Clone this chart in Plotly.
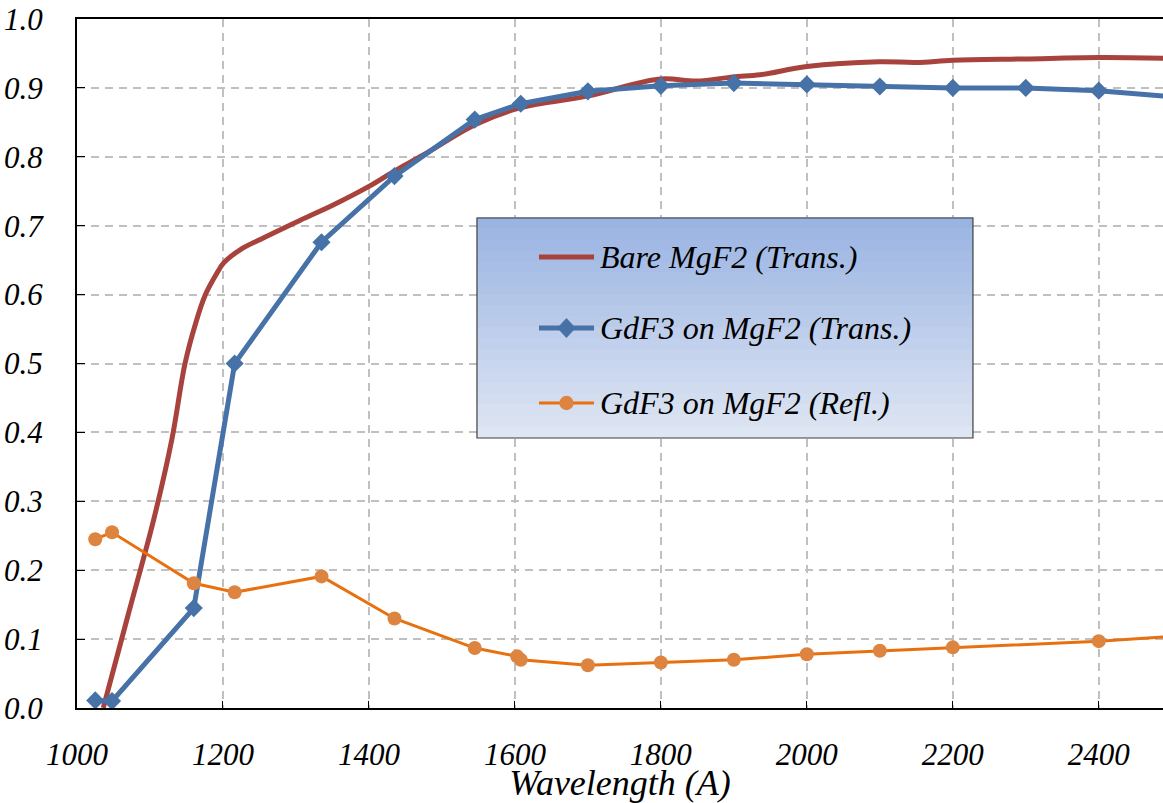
import plotly.graph_objects as go

# ---------------- data ----------------
bare_x = [1036, 1070, 1105, 1130, 1148, 1163, 1176, 1190, 1201, 1225, 1251, 1306,
          1351, 1400, 1436, 1475, 1546, 1607, 1699, 1799, 1849, 1899, 1936, 2000,
          2099, 2150, 2200, 2299, 2399, 2500]
bare_y = [0.000, 0.135, 0.273, 0.390, 0.500, 0.560, 0.600, 0.628, 0.646, 0.666,
          0.680, 0.708, 0.730, 0.757, 0.780, 0.803, 0.847, 0.871, 0.888, 0.913,
          0.910, 0.916, 0.919, 0.931, 0.938, 0.937, 0.940, 0.942, 0.944, 0.943]

gdf_t_x = [1025, 1048, 1160, 1216, 1335, 1435, 1545, 1608, 1700, 1800, 1900, 2000,
           2100, 2200, 2300, 2400, 2500]
gdf_t_y = [0.011, 0.010, 0.145, 0.500, 0.676, 0.772, 0.854, 0.877, 0.895, 0.903,
           0.907, 0.905, 0.902, 0.900, 0.900, 0.896, 0.887]

gdf_r_x = [1025, 1048, 1160, 1216, 1335, 1435, 1545, 1603, 1608, 1700, 1800, 1900,
           2000, 2100, 2200, 2400, 2500]
gdf_r_y = [0.245, 0.255, 0.181, 0.168, 0.191, 0.130, 0.087, 0.075, 0.070, 0.062,
           0.066, 0.070, 0.078, 0.083, 0.088, 0.097, 0.104]

names = ["Bare MgF2 (Trans.)", "GdF3 on MgF2 (Trans.)", "GdF3 on MgF2 (Refl.)"]
x_ticks = [1000, 1200, 1400, 1600, 1800, 2000, 2200, 2400]
y_ticks = [0.0, 0.1, 0.2, 0.3, 0.4, 0.5, 0.6, 0.7, 0.8, 0.9, 1.0]

# ---------------- styles ----------------
FONT = "Liberation Serif"
RED, BLUE, ORANGE_LINE, ORANGE_MK = "#A8423D", "#4672A8", "#E8700F", "#DD8540"
tick_font = dict(family=FONT, size=31, style="italic", color="black")

fig = go.Figure()
fig.add_trace(go.Scatter(
    x=bare_x, y=bare_y, name=names[0], mode="lines",
    line=dict(color=RED, width=5, shape="spline", smoothing=1.0)))
fig.add_trace(go.Scatter(
    x=gdf_t_x, y=gdf_t_y, name=names[1], mode="lines+markers",
    line=dict(color=BLUE, width=5),
    marker=dict(symbol="diamond", size=14, color=BLUE)))
fig.add_trace(go.Scatter(
    x=gdf_r_x, y=gdf_r_y, name=names[2], mode="lines+markers",
    line=dict(color=ORANGE_LINE, width=3),
    marker=dict(symbol="circle", size=14, color=ORANGE_MK)))

# ---------------- legend box (gradient) ----------------
lx0, lx1 = 0.3683, 0.8250
ly0, ly1 = 0.3919, 0.7112
n = 20
top_c = (154, 180, 226)
bot_c = (222, 229, 243)
for i in range(n):
    t = i / (n - 1)
    c = tuple(int(round(top_c[k] + (bot_c[k] - top_c[k]) * t)) for k in range(3))
    ya = ly1 - (ly1 - ly0) * i / n
    yb = ly1 - (ly1 - ly0) * (i + 1) / n
    fig.add_shape(type="rect", xref="paper", yref="paper",
                  x0=lx0, x1=lx1, y0=yb, y1=ya + 0.001,
                  fillcolor="rgb(%d,%d,%d)" % c, line=dict(width=0), layer="above")
fig.add_shape(type="rect", xref="paper", yref="paper", x0=lx0, x1=lx1, y0=ly0, y1=ly1,
              fillcolor="rgba(0,0,0,0)", line=dict(color="#3F3F3F", width=1.2),
              layer="above")

# legend entries: sample line, marker and label
row_y = [0.6546, 0.5515, 0.4427]
sx0, sx1 = 0.4254, 0.4761
sxc = (sx0 + sx1) / 2
text_x = 0.4797
entry_styles = [(RED, 5, None), (BLUE, 5, "diamond"), (ORANGE_LINE, 3, "circle")]
for name, ry, (col, lw, sym) in zip(names, row_y, entry_styles):
    fig.add_shape(type="line", xref="paper", yref="paper", x0=sx0, x1=sx1, y0=ry, y1=ry,
                  line=dict(color=col, width=lw), layer="above")
    if sym == "diamond":
        hx, hy = 0.0085, 0.0145
        fig.add_shape(type="path", xref="paper", yref="paper",
                      path="M %.4f,%.4f L %.4f,%.4f L %.4f,%.4f L %.4f,%.4f Z" % (
                          sxc - hx, ry, sxc, ry + hy, sxc + hx, ry, sxc, ry - hy),
                      fillcolor=BLUE, line=dict(width=0), layer="above")
    elif sym == "circle":
        hx, hy = 0.0066, 0.0104
        fig.add_shape(type="circle", xref="paper", yref="paper",
                      x0=sxc - hx, x1=sxc + hx, y0=ry - hy, y1=ry + hy,
                      fillcolor=ORANGE_MK, line=dict(width=0), layer="above")
    fig.add_annotation(x=text_x, y=ry, xref="paper", yref="paper",
                       xanchor="left", yanchor="middle", showarrow=False, text=name,
                       font=dict(family=FONT, size=32, style="italic", color="black"))

fig.update_layout(
    width=1163, height=803,
    margin=dict(l=77, r=0, t=19, b=95),
    plot_bgcolor="white", paper_bgcolor="white",
    font=dict(family=FONT, size=31, color="black"),
    showlegend=False,
    xaxis=dict(
        range=[1000, 2488], tickvals=x_ticks, tickfont=tick_font,
        showline=True, linecolor="black", linewidth=2, mirror=True,
        ticks="inside", ticklen=7, tickcolor="black",
        showgrid=True, gridcolor="#C0C0C0", gridwidth=1.5, griddash="8px,6px",
        zeroline=False, ticklabelstandoff=18,
        title=dict(text="Wavelength (A)",
                   font=dict(family=FONT, style="italic", size=36, color="black"),
                   standoff=2),
    ),
    yaxis=dict(
        range=[y_ticks[0], y_ticks[-1]], tickvals=y_ticks, tickformat=".1f",
        tickfont=tick_font,
        showline=True, linecolor="black", linewidth=2,
        ticks="inside", ticklen=8, tickcolor="black",
        showgrid=True, gridcolor="#C0C0C0", gridwidth=1.5, griddash="8px,6px",
        zeroline=False, ticklabelstandoff=26,
    ),
)

fig.write_html("out.html")
